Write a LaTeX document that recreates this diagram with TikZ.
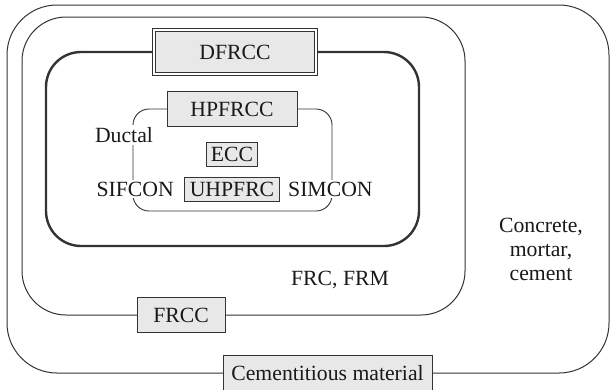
\documentclass[tikz,border=0pt]{standalone}
\usepackage{fontspec}
\setmainfont{Liberation Serif}
\usetikzlibrary{positioning}

\definecolor{linegray}{gray}{0.2}
\definecolor{boxgray}{gray}{0.91}

\begin{document}
\begin{tikzpicture}[
x=1pt, y=-1pt,
material/.style={
	% The shape:
	rectangle, inner sep=0pt,
	% The border:
	draw=linegray, line width=1pt,
	% The filling:
	fill=boxgray},
family/.style={
	% plain text sitting on a frame line
	fill=white, inner sep=2pt},
frame/.style={draw=linegray, line width=1pt},
every node/.style={font=\fontsize{21.7}{24}\selectfont, text=black!90},
]

\useasboundingbox (0,0) rectangle (610,389);

% the nested frames
\draw[frame, rounded corners=50] (7,5) rectangle (609,373);
\draw[frame, rounded corners=44] (22,17) rectangle (465,315);
\draw[frame, line width=2.4pt, rounded corners=35] (46,52) rectangle (419,246);
\draw[frame, line width=0.9pt, rounded corners=16] (133,109) rectangle (332,211);

% boxes on the frames
\node (cementitious) [material, minimum width=209pt, minimum height=36pt] at (327.5,373) {Cementitious material};
\node (frcc) [material, minimum width=88pt, minimum height=35pt] at (181,315) {FRCC};
\node (dfrcc) [material, double=white, double distance=2.4pt, line width=0.9pt,
	minimum width=161.8pt, minimum height=43.8pt] at (235,52) {DFRCC};
\node (hpfrcc) [material, minimum width=130pt, minimum height=35pt] at (232,109) {HPFRCC};

% the innermost group
\node (ecc) [material, minimum width=51pt, minimum height=24pt] at (232,154) {ECC};
\node (uhpfrc) [material, minimum width=95pt, minimum height=24pt, below=10pt of ecc] {UHPFRC};
\node (sifcon) [family, left=8pt of uhpfrc] {SIFCON};
\node (simcon) [family, right=6pt of uhpfrc] {SIMCON};
\node (ductal) [family] at (124,135) {Ductal};

% plain members
\node (frc) at (340,280) {FRC, FRM};
\node (concrete) [align=center] at (541,249) {Concrete,\\mortar,\\cement};

\end{tikzpicture}
\end{document}
